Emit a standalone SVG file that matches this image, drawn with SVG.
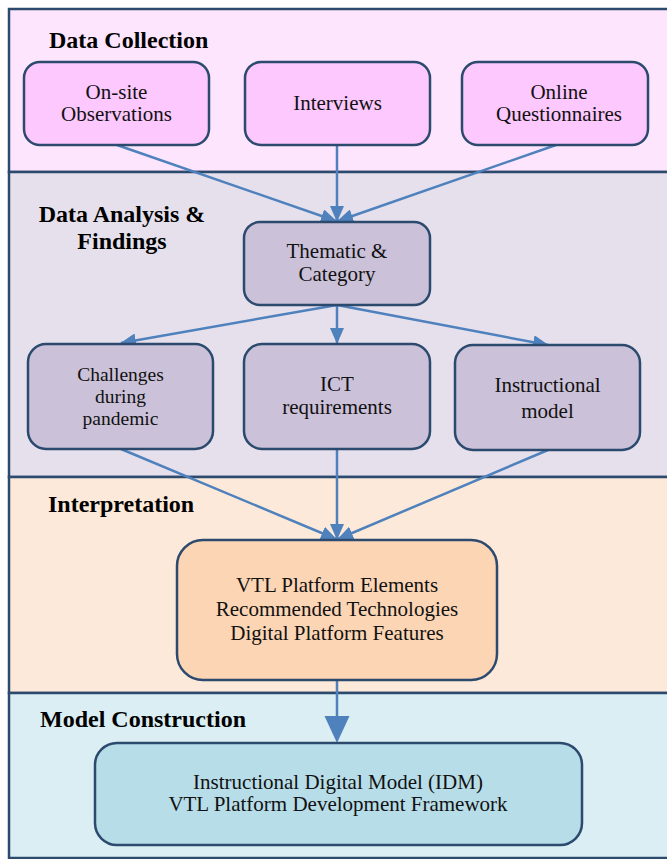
<svg xmlns="http://www.w3.org/2000/svg" width="667" height="859" viewBox="0 0 667 859">
  <defs>
    <marker id="arrow" markerWidth="16" markerHeight="14" refX="15" refY="7" orient="auto" markerUnits="userSpaceOnUse" viewBox="0 0 16 14">
      <path d="M0,0 L16,7 L0,14 Z" fill="#4f81bd"/>
    </marker>
    <style>
      .lane { stroke: #2c4a6e; stroke-width: 2.5; }
      .node { stroke: #2c4a6e; stroke-width: 2.5; }
      .title { font-family: "Liberation Serif", "Times New Roman", serif; font-weight: bold; font-size: 24px; fill: #000; }
      .label { font-family: "Liberation Serif", "Times New Roman", serif; font-size: 21px; fill: #111; text-anchor: middle; }
      .tight { font-size: 19.5px; }
      .edge { stroke: #4f81bd; stroke-width: 2.5; fill: none; }
    </style>
  </defs>

  <rect width="667" height="859" fill="#ffffff"/>

  <!-- swimlanes -->
  <g id="lanes">
    <rect class="lane" x="9" y="9" width="680" height="163" fill="#fde6fd"/>
    <rect class="lane" x="9" y="172" width="680" height="305" fill="#e5e0ec"/>
    <rect class="lane" x="9" y="477" width="680" height="216" fill="#fde9d9"/>
    <rect class="lane" x="9" y="693" width="680" height="165" fill="#daeef3"/>
    <text class="title" x="49" y="48">Data Collection</text>
    <text class="title" x="122" y="222" text-anchor="middle">Data Analysis &amp;</text>
    <text class="title" x="122" y="249" text-anchor="middle">Findings</text>
    <text class="title" x="48" y="512">Interpretation</text>
    <text class="title" x="40" y="727">Model Construction</text>
  </g>

  <!-- connectors -->
  <g id="connectors">
    <line class="edge" x1="117" y1="145" x2="336" y2="221" marker-end="url(#arrow)"/>
    <line class="edge" x1="337" y1="145" x2="337" y2="221" marker-end="url(#arrow)"/>
    <line class="edge" x1="556" y1="145" x2="338" y2="221" marker-end="url(#arrow)"/>
    <line class="edge" x1="337" y1="305" x2="121" y2="343" marker-end="url(#arrow)"/>
    <line class="edge" x1="337" y1="305" x2="337" y2="343" marker-end="url(#arrow)"/>
    <line class="edge" x1="337" y1="305" x2="548" y2="345" marker-end="url(#arrow)"/>
    <line class="edge" x1="121" y1="449" x2="336" y2="539" marker-end="url(#arrow)"/>
    <line class="edge" x1="337" y1="449" x2="337" y2="539" marker-end="url(#arrow)"/>
    <line class="edge" x1="548" y1="450" x2="338" y2="539" marker-end="url(#arrow)"/>
    <line class="edge" x1="337" y1="680" x2="337" y2="718"/>
    <path d="M324.5,716 L349.5,716 L337,743 Z" fill="#4f81bd"/>
  </g>

  <!-- Data Collection -->
  <g id="onsite">
    <rect class="node" x="24" y="62" width="185" height="83" rx="16" fill="#fdc8fd"/>
    <text class="label" x="116.5" y="99">On-site</text>
    <text class="label" x="116.5" y="121">Observations</text>
  </g>
  <g id="interviews">
    <rect class="node" x="245" y="62" width="185" height="83" rx="16" fill="#fdc8fd"/>
    <text class="label" x="337.5" y="110">Interviews</text>
  </g>
  <g id="questionnaires">
    <rect class="node" x="462" y="62" width="186" height="83" rx="16" fill="#fdc8fd"/>
    <text class="label" x="559" y="99">Online</text>
    <text class="label" x="559" y="121">Questionnaires</text>
  </g>

  <!-- Data Analysis & Findings -->
  <g id="thematic">
    <rect class="node" x="244" y="222" width="186" height="83" rx="16" fill="#cbc1d9"/>
    <text class="label" x="337" y="258">Thematic &amp;</text>
    <text class="label" x="337" y="281">Category</text>
  </g>
  <g id="challenges">
    <rect class="node" x="28" y="344" width="185" height="105" rx="18" fill="#cbc1d9"/>
    <text class="label tight" x="120.5" y="381">Challenges</text>
    <text class="label tight" x="120.5" y="403">during</text>
    <text class="label tight" x="120.5" y="425">pandemic</text>
  </g>
  <g id="ict">
    <rect class="node" x="244" y="344" width="186" height="105" rx="18" fill="#cbc1d9"/>
    <text class="label" x="337" y="391">ICT</text>
    <text class="label" x="337" y="414">requirements</text>
  </g>
  <g id="instructional">
    <rect class="node" x="455" y="345" width="185" height="105" rx="18" fill="#cbc1d9"/>
    <text class="label" x="547.5" y="392">Instructional</text>
    <text class="label" x="547.5" y="418">model</text>
  </g>

  <!-- Interpretation -->
  <g id="vtl">
    <rect class="node" x="177" y="540" width="320" height="140" rx="26" fill="#fcd5b5"/>
    <text class="label" x="337" y="592">VTL Platform Elements</text>
    <text class="label" x="337" y="616">Recommended Technologies</text>
    <text class="label" x="337" y="640">Digital Platform Features</text>
  </g>

  <!-- Model Construction -->
  <g id="idm">
    <rect class="node" x="95" y="743" width="487" height="102" rx="22" fill="#b7dde8"/>
    <text class="label" x="338" y="789">Instructional Digital Model (IDM)</text>
    <text class="label" x="338" y="811">VTL Platform Development Framework</text>
  </g>
</svg>
